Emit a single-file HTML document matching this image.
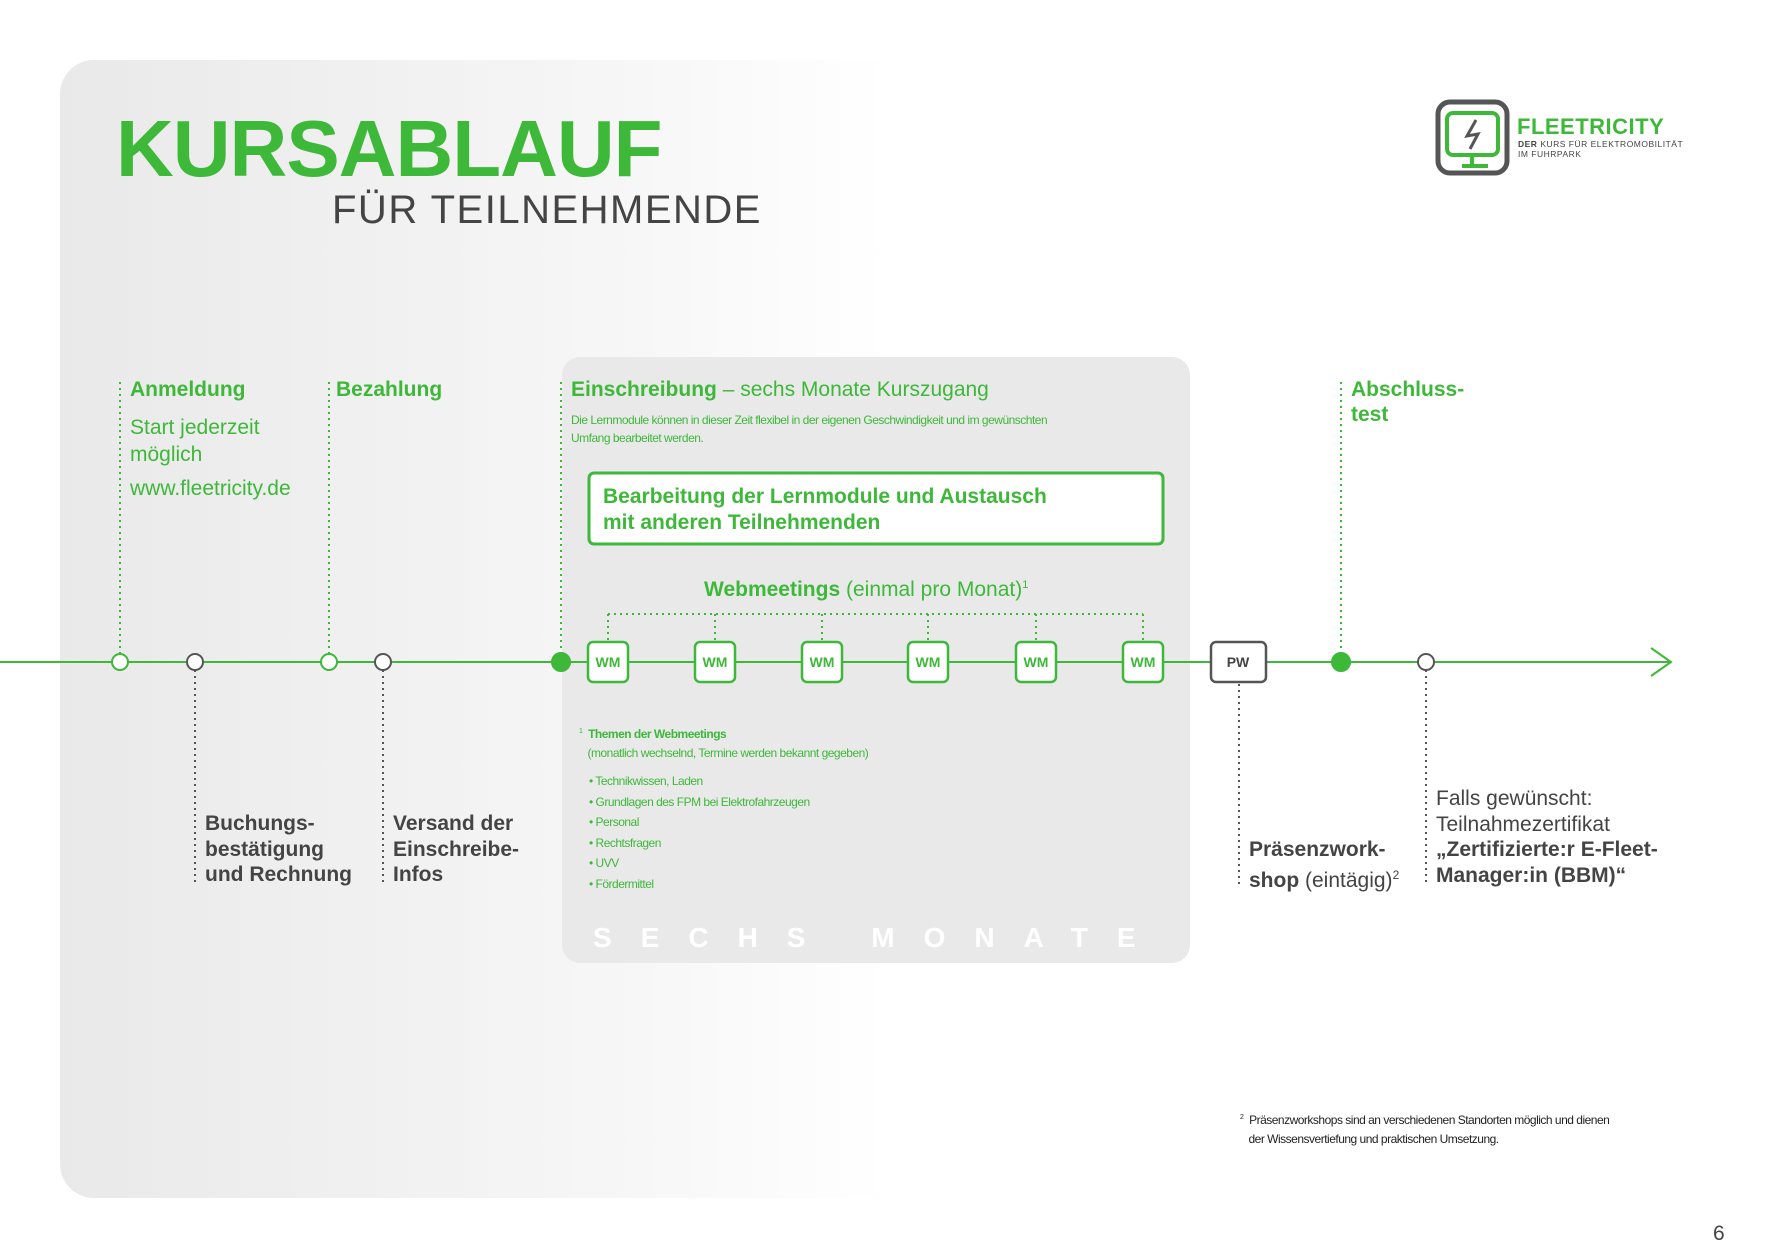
<!DOCTYPE html>
<html><head><meta charset="utf-8"><style>
body{margin:0;width:1780px;height:1259px;position:relative;background:#fff;font-family:"Liberation Sans",sans-serif;overflow:hidden}
.a{position:absolute;white-space:nowrap}
.g{color:#3db839}.k{color:#444}
.b{font-weight:bold}
.s{font-family:"Liberation Sans Narrow","Liberation Sans",sans-serif;font-size:12px;letter-spacing:-0.5px}
</style></head><body>
<div class="a" style="left:60px;top:60px;width:1660px;height:1138px;border-radius:34px;background:linear-gradient(90deg,#e9e9e9 0%,#f7f7f7 35%,#fff 50%)"></div>
<div class="a" style="left:562px;top:357px;width:628px;height:606px;border-radius:18px;background:#e9e9e9"></div>
<div class="a g b" style="left:116px;top:104px;font-size:80px;line-height:90px;letter-spacing:-1px">KURSABLAUF</div>
<div class="a k" style="left:332px;top:188px;font-size:40px;line-height:44px;letter-spacing:1.5px">FÜR TEILNEHMENDE</div>
<svg class="a" style="left:0;top:0" width="1780" height="1259">
<rect x="1438" y="102" width="69" height="71" rx="12" fill="none" stroke="#555" stroke-width="5"/>
<rect x="1447" y="113" width="51" height="42" rx="6" fill="none" stroke="#3db839" stroke-width="4"/>
<path d="M1476 120 L1467 136 L1478 134 L1470 149" fill="none" stroke="#555" stroke-width="3"/>
<line x1="1472" y1="155" x2="1472" y2="166" stroke="#3db839" stroke-width="4"/>
<line x1="1462" y1="166" x2="1488" y2="166" stroke="#3db839" stroke-width="4"/>
<g stroke="#3db839" stroke-width="2" fill="none">
<line x1="0" y1="662" x2="1671" y2="662"/>
<polyline points="1651,648 1671,662 1651,676"/>
</g>
<g stroke-dasharray="2,4" stroke-width="2" fill="none">
<line x1="120" y1="382" x2="120" y2="654" stroke="#3db839"/>
<line x1="329" y1="382" x2="329" y2="654" stroke="#3db839"/>
<line x1="561" y1="382" x2="561" y2="654" stroke="#3db839"/>
<line x1="1341" y1="382" x2="1341" y2="654" stroke="#3db839"/>
<line x1="608" y1="614" x2="1143" y2="614" stroke="#3db839"/>
<line x1="608" y1="614" x2="608" y2="642" stroke="#3db839"/>
<line x1="715" y1="614" x2="715" y2="642" stroke="#3db839"/>
<line x1="822" y1="614" x2="822" y2="642" stroke="#3db839"/>
<line x1="928" y1="614" x2="928" y2="642" stroke="#3db839"/>
<line x1="1036" y1="614" x2="1036" y2="642" stroke="#3db839"/>
<line x1="1143" y1="614" x2="1143" y2="642" stroke="#3db839"/>
<line x1="195" y1="670" x2="195" y2="886" stroke="#555"/>
<line x1="383" y1="670" x2="383" y2="886" stroke="#555"/>
<line x1="1239" y1="684" x2="1239" y2="886" stroke="#555"/>
<line x1="1426" y1="670" x2="1426" y2="886" stroke="#555"/>
</g>
<g stroke-width="2">
<circle cx="120" cy="662" r="8" fill="#fff" stroke="#3db839"/>
<circle cx="195" cy="662" r="8" fill="#fff" stroke="#555"/>
<circle cx="329" cy="662" r="8" fill="#fff" stroke="#3db839"/>
<circle cx="383" cy="662" r="8" fill="#fff" stroke="#555"/>
<circle cx="561" cy="662" r="9" fill="#3db839" stroke="#3db839"/>
<circle cx="1341" cy="662" r="9" fill="#3db839" stroke="#3db839"/>
<circle cx="1426" cy="662" r="8" fill="#fff" stroke="#555"/>
</g>
<rect x="589" y="473" width="574" height="71" rx="5" fill="#fff" stroke="#3db839" stroke-width="3"/>
<g fill="#fff" stroke="#3db839" stroke-width="2.5">
<rect x="588" y="642" width="40" height="40" rx="5"/>
<rect x="695" y="642" width="40" height="40" rx="5"/>
<rect x="802" y="642" width="40" height="40" rx="5"/>
<rect x="908" y="642" width="40" height="40" rx="5"/>
<rect x="1016" y="642" width="40" height="40" rx="5"/>
<rect x="1123" y="642" width="40" height="40" rx="5"/>
<rect x="1211" y="642" width="55" height="40" rx="5" stroke="#555"/>
</g>
<g font-family="Liberation Sans" font-weight="bold" font-size="14" text-anchor="middle" fill="#3db839">
<text x="608" y="667">WM</text><text x="715" y="667">WM</text><text x="822" y="667">WM</text>
<text x="928" y="667">WM</text><text x="1036" y="667">WM</text><text x="1143" y="667">WM</text>
<text x="1238" y="667" fill="#444">PW</text>
</g>
</svg>
<div class="a g b" style="left:1517px;top:114px;font-size:22px;letter-spacing:0.5px">FLEETRICITY</div>
<div class="a k" style="left:1518px;top:139px;font-size:8.5px;line-height:10px;letter-spacing:0.5px"><b>DER</b> KURS FÜR ELEKTROMOBILITÄT<br>IM FUHRPARK</div>

<div class="a g b" style="left:130px;top:378px;font-size:21px">Anmeldung</div>
<div class="a g" style="left:130px;top:414px;font-size:21px;line-height:27px">Start jederzeit<br>möglich</div>
<div class="a g" style="left:130px;top:477px;font-size:21px">www.fleetricity.de</div>
<div class="a g b" style="left:336px;top:378px;font-size:21px">Bezahlung</div>
<div class="a g" style="left:571px;top:378px;font-size:21px"><b>Einschreibung</b> – sechs Monate Kurszugang</div>
<div class="a g s" style="left:571px;top:411px;line-height:18px">Die Lernmodule können in dieser Zeit flexibel in der eigenen Geschwindigkeit und im gewünschten<br>Umfang bearbeitet werden.</div>
<div class="a g b" style="left:603px;top:484px;font-size:21px;line-height:26px">Bearbeitung der Lernmodule und Austausch<br>mit anderen Teilnehmenden</div>
<div class="a g" style="left:704px;top:578px;font-size:21px"><b>Webmeetings</b> (einmal pro Monat)<sup style="font-size:11px">1</sup></div>
<div class="a g s" style="left:579px;top:723px;line-height:18.5px"><sup style="font-size:7px">1</sup>&nbsp; <b>Themen der Webmeetings</b><br>&nbsp;&nbsp;&nbsp;(monatlich wechselnd, Termine werden bekannt gegeben)</div>
<div class="a g s" style="left:589px;top:771px;line-height:20.6px">• Technikwissen, Laden<br>• Grundlagen des FPM bei Elektrofahrzeugen<br>• Personal<br>• Rechtsfragen<br>• UVV<br>• Fördermittel</div>
<div class="a b" style="left:593px;top:922px;font-size:28px;color:#fff;letter-spacing:29px">SECHS MONATE</div>
<div class="a g b" style="left:1351px;top:377px;font-size:21px;line-height:25px">Abschluss-<br>test</div>
<div class="a k b" style="left:205px;top:811px;font-size:21px;line-height:25.5px">Buchungs-<br>bestätigung<br>und Rechnung</div>
<div class="a k b" style="left:393px;top:811px;font-size:21px;line-height:25.5px">Versand der<br>Einschreibe-<br>Infos</div>
<div class="a k" style="left:1249px;top:837px;font-size:21px;line-height:25.5px"><b>Präsenzwork-</b><br><b>shop</b> (eintägig)<sup style="font-size:12px">2</sup></div>
<div class="a k" style="left:1436px;top:786px;font-size:21px;line-height:25.5px">Falls gewünscht:<br>Teilnahmezertifikat<br><b>„Zertifizierte:r E-Fleet-<br>Manager:in (BBM)“</b></div>
<div class="a s" style="left:1240px;top:1108px;line-height:19px;color:#222"><sup style="font-size:7px">2</sup>&nbsp; Präsenzworkshops sind an verschiedenen Standorten möglich und dienen<br>&nbsp;&nbsp;&nbsp;der Wissensvertiefung und praktischen Umsetzung.</div>
<div class="a k" style="left:1713px;top:1222px;font-size:21px">6</div>
</body></html>
